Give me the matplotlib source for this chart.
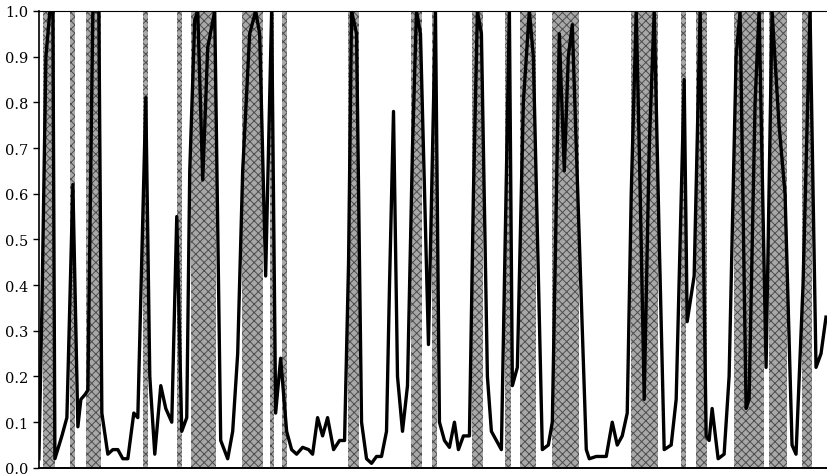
import matplotlib.pyplot as plt

plt.rcParams["hatch.linewidth"] = 0.7

# smoothed regime probability, quarterly index
quarter = [0, 0.6, 1.4, 2.2, 2.8, 3.2, 4.6, 5.6, 6.8, 7.8, 8.4, 9.2, 9.8, 10.8, 12, 12.6,
           13.8, 14.8, 15.8, 16.8, 17.8, 19, 19.8, 21.4, 22.2, 23.2, 24.4, 25.4, 26.6,
           27.6, 28.6, 29.6, 30.2, 31.2, 31.8, 32.8, 33.8, 35.2, 36.4, 37.8, 38.8, 39.8,
           40.8, 42.2, 43.4, 44.2, 45.4, 46.6, 47.4, 48.4, 49.6, 50.6, 51.6, 52.8, 54,
           54.8, 55.8, 56.8, 57.8, 59, 60.2, 61.2, 62, 62.6, 63.6, 64.6, 65.6, 66.6, 67.6,
           68.6, 69.6, 70.2, 71, 71.8, 72.8, 73.8, 74.8, 75.6, 76.4, 78, 79.4, 80.2, 81.2,
           82.2, 83.2, 84, 85, 86.2, 87, 87.8, 88.6, 89.8, 90.6, 91.6, 92.6, 94.2, 94.8,
           95.8, 97, 98.2, 99, 100.8, 102, 102.8, 104.2, 105.2, 106, 106.8, 108.2, 109.6,
           110.2, 111.6, 112.6, 113.6, 114.8, 115.8, 116.8, 117.8, 118.6, 119.6, 120.4,
           121.2, 122.2, 123.2, 124.2, 125.2, 126.6, 127.6, 129.2, 129.8, 131.2, 132.4,
           133.6, 134.2, 134.8, 136, 137.2, 138.2, 139.6, 140.4, 141.6, 142.2, 143.4,
           144.2, 145.6, 146.8, 148.2, 149.4, 150.8, 151.6, 153, 154.4, 155.6, 156.6, 157.6]
prob = [0.02, 0.35, 0.9, 1.0, 1.0, 0.02, 0.07, 0.11, 0.62, 0.09, 0.15, 0.16, 0.17, 1.0, 1.0, 0.12,
        0.03, 0.04, 0.04, 0.02, 0.02, 0.12, 0.11, 0.81, 0.2, 0.03, 0.18, 0.13, 0.10,
        0.55, 0.08, 0.11, 0.65, 0.98, 1.0, 0.63, 0.92, 1.0, 0.06, 0.02, 0.08, 0.25,
        0.65, 0.95, 1.0, 0.95, 0.42, 1.0, 0.12, 0.24, 0.08, 0.04, 0.03, 0.045, 0.04,
        0.03, 0.11, 0.07, 0.11, 0.04, 0.06, 0.06, 0.45, 1.0, 0.95, 0.1, 0.02, 0.01, 0.025,
        0.025, 0.08, 0.4, 0.78, 0.2, 0.08, 0.18, 0.7, 1.0, 0.95, 0.27, 1.0, 0.1, 0.06,
        0.045, 0.1, 0.04, 0.07, 0.07, 0.6, 1.0, 0.95, 0.2, 0.08, 0.06, 0.04, 1.0, 0.18,
        0.22, 0.8, 1.0, 0.9, 0.04, 0.05, 0.1, 0.95, 0.65, 0.9, 0.97, 0.5, 0.04,
        0.02, 0.025, 0.025, 0.025, 0.1, 0.05, 0.07, 0.12, 0.6, 1.0, 0.6,
        0.15, 0.7, 1.0, 0.5, 0.04, 0.05, 0.15, 0.85, 0.32, 0.42, 1.0,
        0.07, 0.06, 0.13, 0.02, 0.03, 0.2, 0.9, 1.0, 0.13, 0.15, 0.8,
        1.0, 0.22, 1.0, 0.75, 0.6, 0.05, 0.03, 0.4, 1.0, 0.22, 0.25, 0.33]

# dated episodes (start, end) in the same quarterly index
episode_start = [0.8, 6.2, 9.4, 20.8, 27.6, 30.4, 40.6, 46.2, 48.6, 61.8, 74.6, 78.8, 86.8,
                 93.4, 96.4, 102.8, 118.6, 128.6, 131.6, 139.2, 146.2, 152.8]
episode_end = [3.2, 7.2, 12.4, 21.8, 28.6, 35.4, 44.8, 47.0, 49.6, 64.0, 76.8, 79.8, 89.0,
               94.6, 99.6, 108.2, 124.0, 129.6, 133.8, 145.2, 149.8, 154.8]

fig = plt.figure(figsize=(8.28, 4.77), dpi=100)
ax = fig.add_axes([0.047, 0.017, 0.953, 0.958])

for s, e in zip(episode_start, episode_end):
    ax.axvspan(s, e, facecolor="#a8a8a8", edgecolor="#4d4d4d", linewidth=0,
               hatch="xxxx", zorder=1)

ax.plot(quarter, prob, color="black", linewidth=2.4, zorder=2)

ax.set_xlim(0, 158)
ax.set_ylim(0, 1.0)
ax.set_yticks([i / 10 for i in range(11)])
ax.set_yticklabels([f"{i / 10:.1f}" for i in range(11)],
                   fontfamily="DejaVu Serif", fontsize=10.5)
ax.set_xticks([])
ax.tick_params(axis="y", direction="out", length=4, width=1)
ax.spines["right"].set_visible(False)
ax.spines["top"].set_linewidth(0.8)
ax.spines["left"].set_linewidth(1.2)
ax.spines["bottom"].set_linewidth(1.4)

fig.savefig("out.png", dpi=100)
